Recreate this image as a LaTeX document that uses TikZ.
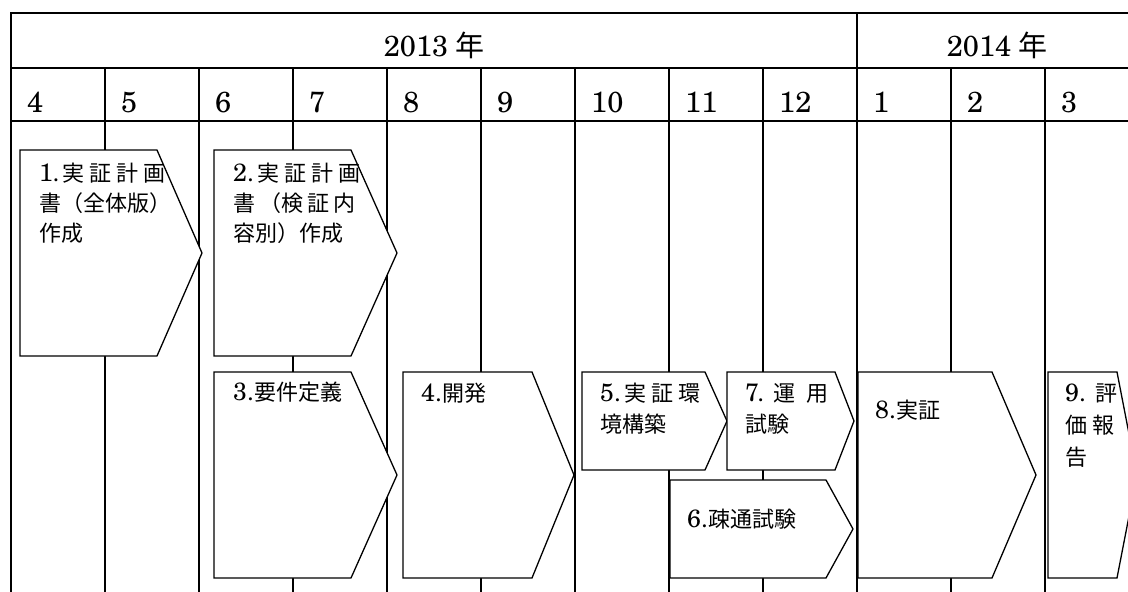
\documentclass[tikz,border=0pt]{standalone}
\usepackage{fontspec}
\setmainfont{texgyreschola-regular.otf}
\newfontfamily\cjk{Noto Sans CJK JP}
\newcommand\J[1]{{\cjk\fontsize{22}{30}\selectfont #1}}
\newcommand\Y[1]{{\cjk\fontsize{29}{32}\selectfont #1}}
\newcommand\chev[5]{\draw[shp] (#1,#2) -- (#4,#2) -- (#5,{(#2+#3)/2}) -- (#4,#3) -- (#1,#3) -- cycle;}
\tikzset{
  grid/.style={line width=1.8pt},
  shp/.style={line width=1.3pt, fill=white},
  hdr/.style={anchor=base, inner sep=0pt, font=\fontsize{29}{34}\selectfont},
  mon/.style={anchor=base west, inner sep=0pt, font=\fontsize{29}{34}\selectfont},
  lbl/.style={anchor=base west, inner sep=0pt, font=\fontsize{25}{30}\selectfont},
}
\begin{document}
\begin{tikzpicture}[x=1pt,y=-1pt]
\useasboundingbox (0,0) rectangle (1128,592);
\clip (0,0) rectangle (1128,592);
\fill[white] (0,0) rectangle (1128,592);
% grid
\draw[grid] (11,600) -- (11,13) -- (1140,13);
\draw[grid] (11,68) -- (1140,68);
\draw[grid] (11,121) -- (1140,121);
\draw[grid] (857,13) -- (857,600);
\foreach \x in {105,199,293,387,481,575,669,763,951,1045}
  \draw[grid] (\x,68) -- (\x,600);
% headers
\node[hdr] (y13) at (434,56) {2013\hspace{7pt}\Y{年}};
\node[hdr] (y14) at (997,56) {2014\hspace{7pt}\Y{年}};
\node[mon] (m4) at (27,112) {4};
\node[mon] (m5) at (121,112) {5};
\node[mon] (m6) at (215,112) {6};
\node[mon] (m7) at (309,112) {7};
\node[mon] (m8) at (403,112) {8};
\node[mon] (m9) at (497,112) {9};
\node[mon] (m10) at (591,112) {10};
\node[mon] (m11) at (685,112) {11};
\node[mon] (m12) at (779,112) {12};
\node[mon] (m1) at (873,112) {1};
\node[mon] (m2) at (967,112) {2};
\node[mon] (m3) at (1061,112) {3};
% shapes
\chev{20}{150}{356}{157}{202}
\chev{214}{150}{356}{351}{397}
\chev{214}{372}{578}{351}{397}
\chev{403}{372}{578}{532}{574}
\chev{582}{372}{470}{705}{727}
\chev{727}{372}{470}{835}{854}
\chev{670}{480}{578}{826}{853}
\chev{858}{372}{578}{992}{1036}
\chev{1048}{372}{578}{1117}{1137}
% labels
\node[lbl] (t1a) at (39,181) {1.\J{\hspace{3pt}実\hspace{5pt}証\hspace{5pt}計\hspace{5pt}画}};
\node[lbl] (t1b) at (39,211) {\J{書（全体版）}};
\node[lbl] (t1c) at (39,241) {\J{作成}};
\node[lbl] (t2a) at (233,181) {2.\J{\hspace{3pt}実\hspace{5pt}証\hspace{5pt}計\hspace{5pt}画}};
\node[lbl] (t2b) at (233,211) {\J{書\hspace{4pt}（検\hspace{4pt}証\hspace{4pt}内}};
\node[lbl] (t2c) at (233,241) {\J{容別）作成}};
\node[lbl] (t3) at (233,400) {3.\J{要件定義}};
\node[lbl] (t4) at (421,401) {4.\J{開発}};
\node[lbl] (t5a) at (600,401) {5.\J{\hspace{3pt}実\hspace{5pt}証\hspace{5pt}環}};
\node[lbl] (t5b) at (600,432) {\J{境構築}};
\node[lbl] (t7a) at (745,401) {7.\J{\hspace{9pt}運\hspace{11pt}用}};
\node[lbl] (t7b) at (745,432) {\J{試験}};
\node[lbl] (t6) at (687,527) {6.\J{疎通試験}};
\node[lbl] (t8) at (875,418) {8.\J{実証}};
\node[lbl] (t9a) at (1065,401) {9.\J{\hspace{9pt}評}};
\node[lbl] (t9b) at (1065,433) {\J{価\hspace{5pt}報}};
\node[lbl] (t9c) at (1065,465) {\J{告}};
\end{tikzpicture}
\end{document}
